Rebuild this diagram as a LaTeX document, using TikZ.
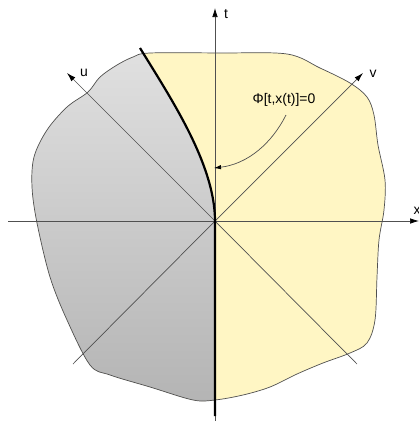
\documentclass[tikz,border=0pt]{standalone}
\usepackage{fontspec}
\setmainfont{Liberation Sans}
\usetikzlibrary{arrows.meta}
\definecolor{yel}{HTML}{FFF6C4}
\definecolor{graytop}{HTML}{E0E0E0}
\definecolor{graybot}{HTML}{B4B4B4}
\definecolor{ln}{HTML}{505050}
\begin{document}
\begin{tikzpicture}[x=1bp,y=-1bp,
  axis/.style={draw=ln,line width=0.7bp,-{Latex[length=9bp,width=5.5bp,color=black]}},
  diag/.style={draw=ln,line width=0.7bp},
  blobline/.style={draw=ln,line width=0.7bp},
  thick front/.style={draw=black,line width=2.2bp},
  lbl/.style={font=\fontsize{14}{16}\selectfont,inner sep=0pt}]
\useasboundingbox (0,0) rectangle (419,421);
\def\blob{plot[smooth cycle,tension=0.55] coordinates{
 (150,53) (220,53) (287,54) (320,68) (350,83) (367,97) (374,115)
 (378,145) (385,180) (384,210) (379,240) (377,277) (375,320) (367,343)
 (350,353) (323,363) (297,374) (270,387) (243,395) (215,400) (193,400)
 (150,387) (110,375) (90,365) (67,320) (50,277) (37,223) (32,187)
 (34,157) (47,130) (67,107) (88,92) (100,77) (117,65) (133,57)}}
\coordinate (O) at (215,221);
\coordinate (Ftop) at (140,48);
\coordinate (Fbot) at (215,416);
\fill[yel] \blob;
\begin{scope}
  \clip (215,430) -- (O) .. controls (215,165) and (172,100) .. (Ftop) -- (110,0) -- (-10,0) -- (-10,430) -- cycle;
  \shade[top color=graytop,bottom color=graybot] \blob;
\end{scope}
\draw[blobline] \blob;
% axes
\coordinate (xl) at (8,221);
\coordinate (xr) at (419,221);
\coordinate (tb) at (215,421);
\coordinate (tt) at (215,8);
\coordinate (ub) at (357,364);
\coordinate (ut) at (67,73);
\coordinate (vb) at (73,364);
\coordinate (vt) at (363,73);
\draw[diag] (ub) -- (O);
\draw[diag] (vb) -- (O);
\draw[axis] (O) -- (ut);
\draw[axis] (O) -- (vt);
\draw[axis] (xl) -- (xr);
\draw[axis] (tb) -- (tt);
% front
\draw[thick front] (Fbot) -- (O) .. controls (215,165) and (172,100) .. (Ftop);
% labels
\node[lbl] (lt) at (226,14) {t};
\node[lbl] (lu) at (84,73) {u};
\node[lbl] (lv) at (373,74) {v};
\node[lbl] (lx) at (417,211) {x};
\node[lbl] (phi) at (284,100) {Φ[t,x(t)]=0};
\coordinate (pstart) at (286,115);
\coordinate (ptip) at (214,168);
\draw[draw=ln,line width=0.7bp,-{Latex[length=7bp,width=4.5bp,color=black]}] (pstart) .. controls (272,143) and (248,164) .. (ptip);
\end{tikzpicture}
\end{document}
